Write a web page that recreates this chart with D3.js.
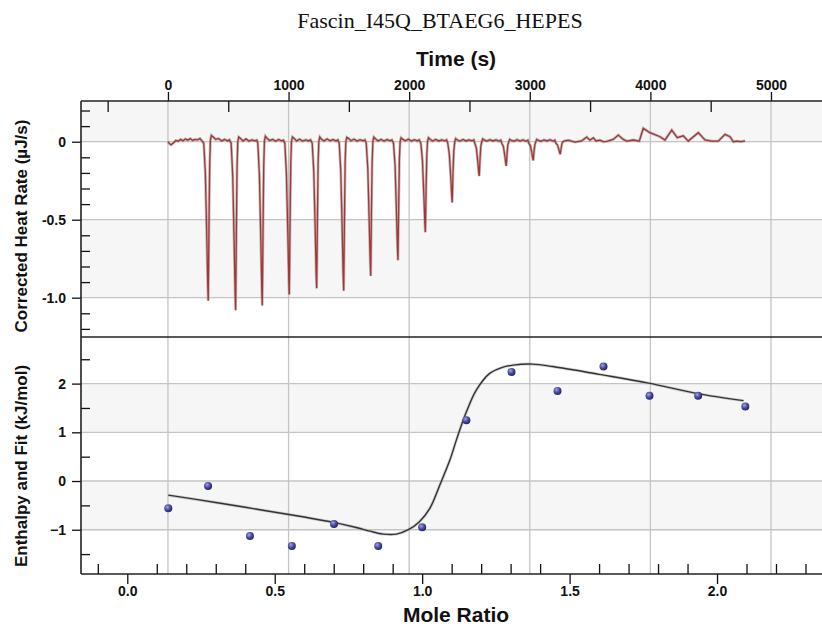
<!DOCTYPE html>
<html>
<head>
<meta charset="utf-8">
<title>Fascin_I45Q_BTAEG6_HEPES</title>
<script src="https://d3js.org/d3.v7.min.js"></script>
<style>
  body { margin: 0; background: #fff; }
  svg text { font-family: "Liberation Sans", Arial, sans-serif; font-weight: bold; fill: #111; }
  svg .title { font-family: "Liberation Serif", "Times New Roman", serif; font-weight: normal; }
</style>
</head>
<body>
<svg id="chart" width="822" height="626"></svg>
<script>
  // raw thermogram [time s, heat rate uJ/s]
  const thermogram = [
    [0,0.0],[12,-0.012],[25,-0.02],[45,-0.008],[65,0.008],[85,0.003],[105,0.015],[125,0.006],[145,0.018],[165,0.01],[185,0.02],[205,0.008],[225,0.015],[245,0.012],[265,0.02],[282,0.005],[297,-0.01],
    [310,-0.2],[322,-0.61],[330,-0.92],[334,-1.02],[340,-0.56],[346,-0.15],[352,0.01],[360,0.04],[375,0.03],[395,0.015],[420,0.02],[445,0.005],[470,0.015],[495,0.005],[510,0.012],[524,-0.01],
    [537,-0.22],[549,-0.65],[557,-0.97],[561,-1.08],[567,-0.59],[573,-0.16],[579,0.0],[587,0.03],[602,0.02],[622,0.005],[647,0.018],[672,0.004],[697,0.012],[722,0.006],[737,0.01],[745,-0.01],
    [758,-0.21],[770,-0.63],[778,-0.95],[782,-1.05],[788,-0.58],[794,-0.16],[800,0.005],[808,0.035],[823,0.02],[843,0.008],[868,0.015],[893,0.003],[918,0.014],[943,0.005],[958,0.01],[969,-0.01],
    [982,-0.2],[994,-0.59],[1002,-0.88],[1006,-0.98],[1012,-0.54],[1018,-0.15],[1024,0.0],[1032,0.03],[1047,0.02],[1067,0.005],[1092,0.016],[1117,0.004],[1142,0.012],[1167,0.005],[1182,0.012],[1196,-0.01],
    [1209,-0.19],[1221,-0.56],[1229,-0.85],[1233,-0.94],[1239,-0.52],[1245,-0.14],[1251,0.0],[1259,0.03],[1274,0.015],[1294,0.005],[1319,0.018],[1344,0.006],[1369,0.014],[1394,0.004],[1409,0.012],[1420,-0.01],
    [1433,-0.19],[1445,-0.57],[1453,-0.86],[1457,-0.955],[1463,-0.53],[1469,-0.14],[1475,0.0],[1483,0.028],[1498,0.02],[1518,0.006],[1543,0.016],[1568,0.004],[1593,0.013],[1618,0.006],[1633,0.012],[1644,-0.01],
    [1657,-0.17],[1669,-0.52],[1677,-0.77],[1681,-0.86],[1687,-0.47],[1693,-0.13],[1699,0.0],[1707,0.03],[1722,0.018],[1742,0.005],[1767,0.015],[1792,0.004],[1817,0.014],[1842,0.006],[1857,0.012],[1870,-0.01],
    [1883,-0.15],[1895,-0.46],[1903,-0.68],[1907,-0.76],[1913,-0.42],[1919,-0.11],[1925,0.0],[1933,0.025],[1948,0.015],[1968,0.006],[1993,0.016],[2018,0.004],[2043,0.013],[2068,0.005],[2083,0.012],[2097,-0.01],
    [2110,-0.12],[2122,-0.35],[2130,-0.52],[2134,-0.58],[2140,-0.32],[2146,-0.09],[2152,0.0],[2160,0.025],[2175,0.014],[2195,0.004],[2220,0.015],[2245,0.005],[2270,0.012],[2295,0.006],[2310,0.012],[2320,-0.01],
    [2333,-0.08],[2345,-0.23],[2353,-0.35],[2357,-0.39],[2363,-0.21],[2370,-0.06],[2378,0.0],[2386,0.02],[2401,0.01],[2421,0.004],[2446,0.014],[2471,0.005],[2496,0.012],[2521,0.006],[2536,0.012],[2544,-0.01],
    [2557,-0.04],[2569,-0.13],[2577,-0.2],[2581,-0.22],[2587,-0.12],[2594,-0.03],[2602,0.0],[2610,0.018],[2625,0.01],[2645,0.004],[2670,0.013],[2695,0.005],[2720,0.012],[2745,0.004],[2760,0.01],[2768,-0.01],
    [2781,-0.03],[2793,-0.09],[2801,-0.14],[2805,-0.155],[2811,-0.085],[2818,-0.02],[2826,0.0],[2834,0.015],[2849,0.008],[2869,0.003],[2894,0.013],[2919,0.004],[2944,0.012],[2969,0.003],[2984,0.01],[2992,-0.01],
    [3005,-0.025],[3017,-0.07],[3025,-0.11],[3029,-0.12],[3035,-0.065],[3042,-0.02],[3050,0.0],[3058,0.015],[3073,0.008],[3093,0.003],[3118,0.012],[3143,0.005],[3168,0.013],[3193,0.004],[3208,0.01],[3216,-0.01],
    [3229,-0.02],[3241,-0.05],[3249,-0.072],[3253,-0.08],[3259,-0.045],[3266,-0.015],[3274,0.0],[3290,0.005],
    [3319,0.01],[3375,-0.002],[3430,0.005],[3472,0.03],[3499,0.01],[3527,0.025],[3550,0.005],[3582,0.01],[3610,0.0],[3638,0.002],
    [3692,0.015],[3734,0.043],[3775,0.015],[3804,0.004],[3858,0.011],[3908,0.004],[3941,0.086],[3991,0.06],[4038,0.045],[4080,0.032],
    [4121,0.011],[4177,0.075],[4223,0.026],[4273,0.038],[4314,0.004],[4397,0.058],[4453,0.011],[4508,0.004],[4563,0.004],[4619,0.047],
    [4660,0.032],[4688,0.0],[4720,0.004],[4750,0.0],[4785,0.006]
  ];

  // integrated heats per injection
  const moleRatio = [0.139, 0.274, 0.416, 0.558, 0.701, 0.851, 1.0, 1.150, 1.303, 1.459, 1.615, 1.771, 1.936, 2.096];
  const enthalpy  = [-0.56, -0.10, -1.13, -1.335, -0.88, -1.335, -0.95, 1.25, 2.24, 1.85, 2.35, 1.75, 1.75, 1.53];

  // fitted model curve
  const fitRatio    = [0.139, 0.30, 0.45, 0.60, 0.70, 0.78, 0.823, 0.868, 0.913, 0.953, 0.99, 1.026, 1.06, 1.094, 1.117, 1.15, 1.184, 1.229, 1.27, 1.309, 1.375, 1.443, 1.60, 1.768, 1.93, 2.09];
  const fitEnthalpy = [-0.29, -0.44, -0.59, -0.74, -0.85, -0.96, -1.03, -1.09, -1.09, -1.0, -0.84, -0.56, -0.08, 0.43, 0.86, 1.42, 1.87, 2.21, 2.33, 2.38, 2.40, 2.35, 2.19, 2.01, 1.80, 1.65];

  const timeTicks = [0, 1000, 2000, 3000, 4000, 5000];
  const timeMinorTicks = [-500, 500, 1500, 2500, 3500, 4500];
  const rateTicks = [0, -0.5, -1.0];
  const rateTickLabels = ["0", "-0.5", "-1.0"];
  const rateMinorTicks = [0.2, 0.1, -0.1, -0.2, -0.3, -0.4, -0.6, -0.7, -0.8, -0.9, -1.1, -1.2];
  const rateBands = [[0.3, 0], [-0.5, -1.0]];
  const enthalpyTicks = [2, 1, 0, -1];
  const enthalpyMinorTicks = [2.5, 1.5, 0.5, -0.5, -1.5];
  const enthalpyBands = [[2, 1], [0, -1]];
  const ratioTicks = [0, 0.5, 1.0, 1.5, 2.0];
  const ratioMinorTicks = [-0.1, 0.1, 0.2, 0.3, 0.4, 0.6, 0.7, 0.8, 0.9, 1.1, 1.2, 1.3, 1.4, 1.6, 1.7, 1.8, 1.9, 2.1, 2.2, 2.3];

  // layout
  const L = 81, R = 822, T = 101, M = 337, B = 574;
  const svg = d3.select("#chart");

  const xTime = d3.scaleLinear().domain([-721, 5423]).range([L, R]);
  const xRatio = d3.scaleLinear().domain([-0.157, 2.356]).range([L, R]);
  const yRate = d3.scaleLinear().domain([0.261, -1.252]).range([T, M]);
  const yEnth = d3.scaleLinear().domain([2.957, -1.909]).range([M, B]);

  const defs = svg.append("defs");
  const grad = defs.append("radialGradient").attr("id", "ball").attr("cx", "38%").attr("cy", "35%").attr("r", "65%");
  grad.append("stop").attr("offset", "0%").attr("stop-color", "#a4a4e0");
  grad.append("stop").attr("offset", "55%").attr("stop-color", "#4a4aa2");
  grad.append("stop").attr("offset", "100%").attr("stop-color", "#25256e");
  defs.append("clipPath").attr("id", "clipTop").append("rect").attr("x", L).attr("y", T).attr("width", R - L).attr("height", M - T);
  defs.append("clipPath").attr("id", "clipBot").append("rect").attr("x", L).attr("y", M).attr("width", R - L).attr("height", B - M);

  // shaded bands
  svg.append("g").attr("clip-path", "url(#clipTop)")
    .selectAll("rect").data(rateBands).join("rect")
    .attr("x", L).attr("width", R - L)
    .attr("y", d => yRate(d[0])).attr("height", d => yRate(d[1]) - yRate(d[0]))
    .attr("fill", "#f6f6f6");
  svg.append("g").attr("clip-path", "url(#clipBot)")
    .selectAll("rect").data(enthalpyBands).join("rect")
    .attr("x", L).attr("width", R - L)
    .attr("y", d => yEnth(d[0])).attr("height", d => yEnth(d[1]) - yEnth(d[0]))
    .attr("fill", "#f6f6f6");

  // grid
  const grid = svg.append("g").attr("stroke", "#c4c4c4").attr("stroke-width", 1.3);
  grid.selectAll(".vg").data(timeTicks).join("line")
    .attr("x1", d => xTime(d)).attr("x2", d => xTime(d)).attr("y1", T).attr("y2", B);
  grid.selectAll(".hr").data(rateTicks).join("line")
    .attr("x1", L).attr("x2", R).attr("y1", d => yRate(d)).attr("y2", d => yRate(d));
  grid.selectAll(".he").data(enthalpyTicks).join("line")
    .attr("x1", L).attr("x2", R).attr("y1", d => yEnth(d)).attr("y2", d => yEnth(d));

  // thermogram
  const traceLine = d3.line().x(d => xTime(d[0])).y(d => yRate(d[1]));
  const tg = svg.append("g").attr("clip-path", "url(#clipTop)");
  tg.append("path").datum(thermogram).attr("d", traceLine)
    .attr("fill", "none").attr("stroke", "#8a8a8a").attr("stroke-width", 2.8).attr("stroke-opacity", 0.55);
  tg.append("path").datum(thermogram).attr("d", traceLine)
    .attr("fill", "none").attr("stroke", "#a83434").attr("stroke-width", 1.3);

  // fit + points
  const fitData = fitRatio.map((r, i) => [r, fitEnthalpy[i]]);
  const fitLine = d3.line().x(d => xRatio(d[0])).y(d => yEnth(d[1])).curve(d3.curveCatmullRom.alpha(0.5));
  const bg = svg.append("g").attr("clip-path", "url(#clipBot)");
  bg.append("path").datum(fitData).attr("d", fitLine)
    .attr("fill", "none").attr("stroke", "#aaa").attr("stroke-width", 3).attr("stroke-opacity", 0.5);
  bg.append("path").datum(fitData).attr("d", fitLine)
    .attr("fill", "none").attr("stroke", "#333").attr("stroke-width", 1.4);
  bg.selectAll("circle").data(moleRatio).join("circle")
    .attr("cx", d => xRatio(d)).attr("cy", (d, i) => yEnth(enthalpy[i]))
    .attr("r", 4).attr("fill", "url(#ball)");

  // axes
  function styleAxis(g) {
    g.select(".domain").remove();
    g.selectAll(".tick line").attr("stroke", "#111").attr("stroke-width", 1.3);
    g.selectAll(".tick text").style("font-size", "14px");
  }

  svg.append("g").attr("transform", `translate(0,${T})`)
    .call(d3.axisTop(xTime).tickValues(timeTicks).tickSize(9).tickPadding(2).tickFormat(d3.format("d")))
    .call(styleAxis);
  svg.append("g").attr("transform", `translate(0,${T})`)
    .call(d3.axisTop(xTime).tickValues(timeMinorTicks).tickSize(-11).tickFormat(""))
    .call(styleAxis);

  svg.append("g").attr("transform", `translate(${L},0)`)
    .call(d3.axisLeft(yRate).tickValues(rateTicks).tickSize(9).tickPadding(6).tickFormat((d, i) => rateTickLabels[i]))
    .call(styleAxis);
  svg.append("g").attr("transform", `translate(${L},0)`)
    .call(d3.axisLeft(yRate).tickValues(rateMinorTicks).tickSize(-9).tickFormat(""))
    .call(styleAxis);

  svg.append("g").attr("transform", `translate(${L},0)`)
    .call(d3.axisLeft(yEnth).tickValues(enthalpyTicks).tickSize(9).tickPadding(6).tickFormat(d3.format("d")))
    .call(styleAxis);
  svg.append("g").attr("transform", `translate(${L},0)`)
    .call(d3.axisLeft(yEnth).tickValues(enthalpyMinorTicks).tickSize(-9).tickFormat(""))
    .call(styleAxis);

  svg.append("g").attr("transform", `translate(0,${B})`)
    .call(d3.axisBottom(xRatio).tickValues(ratioTicks).tickSize(10).tickPadding(2).tickFormat(d3.format(".1f")))
    .call(styleAxis);
  svg.append("g").attr("transform", `translate(0,${B})`)
    .call(d3.axisBottom(xRatio).tickValues(ratioMinorTicks).tickSize(-10).tickFormat(""))
    .call(styleAxis);

  // frame lines
  const frame = svg.append("g").attr("stroke", "#222").attr("stroke-width", 1.6);
  frame.append("line").attr("x1", L).attr("x2", R).attr("y1", T).attr("y2", T);
  frame.append("line").attr("x1", L).attr("x2", R).attr("y1", M).attr("y2", M);
  frame.append("line").attr("x1", L).attr("x2", R).attr("y1", B).attr("y2", B);
  frame.append("line").attr("x1", L).attr("x2", L).attr("y1", T).attr("y2", B);

  // titles
  svg.append("text").attr("class", "title").attr("x", 440).attr("y", 28)
    .attr("text-anchor", "middle").style("font-size", "22px").text("Fascin_I45Q_BTAEG6_HEPES");
  svg.append("text").attr("x", 456).attr("y", 66).attr("text-anchor", "middle")
    .style("font-size", "21px").text("Time (s)");
  svg.append("text").attr("x", 456).attr("y", 622).attr("text-anchor", "middle")
    .style("font-size", "21px").text("Mole Ratio");
  svg.append("text").attr("transform", "translate(27,226) rotate(-90)").attr("text-anchor", "middle")
    .style("font-size", "17px").text("Corrected Heat Rate (µJ/s)");
  svg.append("text").attr("transform", "translate(27,466) rotate(-90)").attr("text-anchor", "middle")
    .style("font-size", "17px").text("Enthalpy and Fit (kJ/mol)");
</script>
</body>
</html>
